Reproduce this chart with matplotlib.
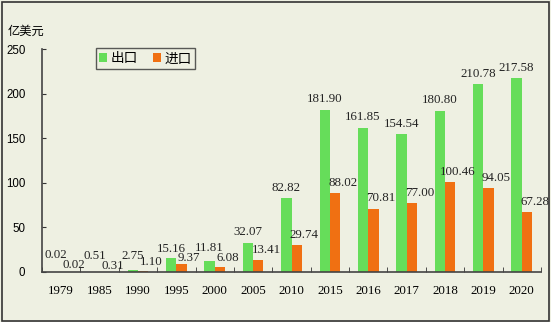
import numpy as np
import matplotlib
matplotlib.use("Agg")
import matplotlib.pyplot as plt
from matplotlib.patches import Rectangle

plt.rcParams['font.family'] = ['Noto Sans CJK SC', 'DejaVu Sans']

years = ["1979", "1985", "1990", "1995", "2000", "2005", "2010",
         "2015", "2016", "2017", "2018", "2019", "2020"]
exports = [0.02, 0.51, 2.75, 15.16, 11.81, 32.07, 82.82,
           181.90, 161.85, 154.54, 180.80, 210.78, 217.58]
imports = [0.02, 0.31, 1.10, 9.37, 6.08, 13.41, 29.74,
           88.02, 70.81, 77.00, 100.46, 94.05, 67.28]

# label lift above bar top (points), staggered for the tiny early values
exp_dy = [12, 11, 10, 7, 10, 8.5, 7.5, 7.5, 7.5, 7.5, 7.5, 7.5, 7.5]
imp_dy = [5, 4, 6.5, 4, 6, 7.5, 7.5, 7.5, 7.5, 7.5, 7.5, 7.5, 7.5]

GREEN = "#66DD5A"
ORANGE = "#F07012"
BG = "#EEF0E2"
SERIF = "Liberation Serif"

fig = plt.figure(figsize=(5.51, 3.22), dpi=100, facecolor=BG)
ax = fig.add_axes([42 / 551, 50 / 322, 499 / 551, 223 / 322])
ax.set_facecolor(BG)

x = np.arange(len(years))
w = 0.27
ax.bar(x - w / 2, exports, w, color=GREEN, label="出口")
ax.bar(x + w / 2, imports, w, color=ORANGE, label="进口")

for i in range(len(years)):
    ax.annotate(f"{exports[i]:.2f}", (x[i] - w / 2, exports[i]),
                xytext=(0, exp_dy[i]), textcoords="offset points",
                ha="center", va="center", fontsize=9.3, family=SERIF,
                color="#222222")
    ax.annotate(f"{imports[i]:.2f}", (x[i] + w / 2, imports[i]),
                xytext=(5.5, imp_dy[i]), textcoords="offset points",
                ha="center", va="center", fontsize=9.3, family=SERIF,
                color="#222222")

ax.set_xlim(-0.5, len(years) - 0.5)
ax.set_ylim(0, 250)
ax.set_yticks([0, 50, 100, 150, 200, 250])
ax.set_xticks(x)
ax.set_xticklabels(years, family=SERIF, fontsize=9.3)
ax.set_xticks(np.arange(len(years) + 1) - 0.5, minor=True)
ax.tick_params(axis="x", which="major", length=0, pad=9)
ax.tick_params(axis="x", which="minor", direction="in", length=3.5,
               color="#333333")
ax.tick_params(axis="y", direction="in", length=3, color="#333333",
               pad=12, labelsize=8.3)
for lbl in ax.get_yticklabels():
    lbl.set_family("Liberation Sans")

for s in ["top", "right"]:
    ax.spines[s].set_visible(False)
for s in ["left", "bottom"]:
    ax.spines[s].set_color("#444444")
    ax.spines[s].set_linewidth(1.2)

fig.text(8 / 551, 1 - 31 / 322, "亿美元", fontsize=8.8, va="center", ha="left")

leg = ax.legend(loc="upper left", bbox_to_anchor=(47 / 499, 1.035), ncol=2,
                fontsize=9.8, frameon=True, fancybox=False, handlelength=0.6,
                handleheight=0.6, handletextpad=0.25, columnspacing=1.1,
                borderpad=0.25)
leg.get_frame().set_edgecolor("#333333")
leg.get_frame().set_facecolor(BG)
leg.get_frame().set_linewidth(1.0)

# dark frame round the whole figure
fig.patches.append(Rectangle((1.5 / 551, 1.5 / 322), 547 / 551, 319 / 322,
                             transform=fig.transFigure, fill=False,
                             edgecolor="#333333", linewidth=1.2))

fig.savefig("out.png", dpi=100, facecolor=BG)
